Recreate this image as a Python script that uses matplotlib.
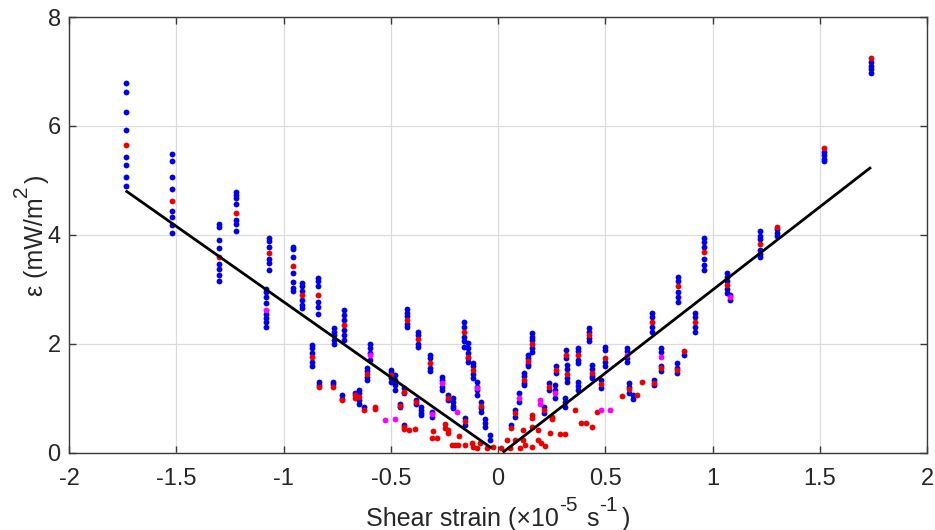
import matplotlib
matplotlib.use('Agg')
import matplotlib.pyplot as plt

plt.rcParams['font.family'] = ['Liberation Sans', 'DejaVu Sans']
plt.rcParams['axes.unicode_minus'] = False

# ---- data: columns of blue points (x, list of y) ----
col_x = [-1.736, -1.518, -1.300, -1.223, -1.083, -1.067, -0.957, -0.915, -0.837, -0.868,
         -0.833, -0.767, -0.763, -0.716, -0.728, -0.665, -0.650, -0.624, -0.597, -0.609,
         -0.498, -0.480, -0.436, -0.459, -0.436, -0.426, -0.372, -0.381, -0.360, -0.317,
         -0.308, -0.262, -0.231, -0.211, -0.154, -0.157, -0.138, -0.118, -0.099, -0.079,
         -0.059, -0.037,
         0.157, 0.141, 0.121, 0.099, 0.079, 0.059, 0.426, 0.374, 0.437, 0.499,
         0.480, 0.374, 0.316, 0.320, 0.270, 0.266, 0.313, 0.236, 0.216, 0.600,
         0.612, 0.628, 0.726, 0.716, 0.760, 0.841, 0.836, 0.869, 0.918, 0.960,
         1.069, 1.083, 1.221, 1.302, 1.520, 1.737]
col_blue = [
    [6.79, 6.63, 6.25, 5.93, 5.42, 5.28, 5.07, 4.90],
    [5.48, 5.36, 5.07, 4.84, 4.44, 4.33, 4.17, 4.03],
    [4.20, 4.14, 3.91, 3.75, 3.47, 3.37, 3.26, 3.15],
    [4.78, 4.73, 4.68, 4.56, 4.27, 4.19, 4.06],
    [3.01, 2.94, 2.85, 2.75, 2.54, 2.47, 2.40, 2.31],
    [3.94, 3.88, 3.78, 3.55, 3.49, 3.35],
    [3.78, 3.74, 3.59, 3.29, 3.14, 3.03, 2.97],
    [3.12, 3.05, 2.97, 2.80, 2.71, 2.65],
    [3.20, 3.15, 3.05, 2.77, 2.67, 2.54],
    [1.98, 1.92, 1.82, 1.67, 1.58],
    [1.30, 1.24],
    [1.30, 1.25],
    [2.28, 2.22, 2.16, 2.07, 1.99],
    [2.61, 2.53, 2.44, 2.25, 2.16, 2.07],
    [1.06, 0.99],
    [1.09],
    [1.15, 1.09, 0.96, 0.90],
    [0.84],
    [2.00, 1.92, 1.82, 1.70],
    [1.55, 1.49, 1.39, 1.33],
    [1.52, 1.47, 1.36, 1.30],
    [1.42, 1.33, 1.24, 1.15],
    [1.18, 1.10],
    [0.90, 0.83],
    [0.51],
    [2.63, 2.57, 2.50, 2.36, 2.30],
    [2.22, 2.16, 2.00, 1.94],
    [0.97, 0.90],
    [0.84, 0.78, 0.72, 0.69],
    [1.79, 1.73, 1.55, 1.50],
    [0.75, 0.65],
    [1.39, 1.33, 1.21, 1.15],
    [1.06, 0.96],
    [1.00, 0.93, 0.86, 0.81],
    [0.63, 0.51],
    [2.40, 2.31, 2.13, 2.04, 1.94],
    [2.02, 1.92, 1.82, 1.73, 1.67],
    [1.64, 1.58, 1.44, 1.36],
    [1.30, 1.21, 1.15, 1.05],
    [0.93, 0.81, 0.75],
    [0.61, 0.54, 0.47],
    [0.32, 0.23],
    [2.19, 2.13, 2.07, 1.92, 1.85],
    [1.79, 1.73, 1.62, 1.58],
    [1.46, 1.40, 1.28, 1.24],
    [1.09, 0.93],
    [0.78, 0.66],
    [0.51],
    [2.28, 2.22, 2.10, 2.04],
    [1.92, 1.86, 1.70, 1.64],
    [1.61, 1.54, 1.40, 1.36],
    [1.94, 1.88, 1.66, 1.58],
    [1.33, 1.18],
    [1.30, 1.22, 1.15],
    [1.88, 1.73],
    [1.61, 1.54, 1.36, 1.30],
    [1.58, 1.46],
    [1.24, 1.15, 1.00],
    [1.00, 0.92, 0.84],
    [1.27, 1.15],
    [0.84, 0.72],
    [1.92, 1.86, 1.74, 1.67],
    [1.28, 1.20, 1.09],
    [1.06, 0.98],
    [1.33, 1.24],
    [2.56, 2.48, 2.30, 2.22],
    [1.92, 1.84, 1.58, 1.49],
    [3.23, 3.15, 2.95, 2.85, 2.77],
    [1.64, 1.56, 1.46],
    [1.80],
    [2.56, 2.48, 2.30, 2.22],
    [3.94, 3.86, 3.78, 3.55, 3.45, 3.35],
    [3.29, 3.22, 3.15, 3.00, 2.93],
    [2.90, 2.80],
    [4.06, 3.98, 3.92, 3.72, 3.65, 3.59],
    [4.10, 4.04, 3.98],
    [5.52, 5.46, 5.40, 5.36],
    [7.17, 7.10, 7.04, 6.97],
]

red_x = [-1.736, -1.518, -1.300, -1.223, -1.067, -0.957, -0.915, -0.837, -0.868, -0.833,
         -0.767, -0.716, -0.728, -0.665, -0.665, -0.650, -0.624, -0.573, -0.573, -0.609,
         -0.498, -0.436, -0.459, -0.436, -0.436, -0.416, -0.385, -0.426, -0.372, -0.381,
         -0.317, -0.304, -0.310, -0.285, -0.247, -0.247, -0.231, -0.231, -0.231, -0.184,
         -0.215, -0.200, -0.185, -0.154, -0.123, -0.118, -0.100, -0.084, -0.052, -0.022,
         -0.154, -0.157, -0.138, -0.118, -0.079,
         0.157, 0.141, 0.121, 0.079, 0.059, 0.040, 0.079, 0.118, 0.126, 0.103,
         0.056, 0.014, 0.157, 0.188, 0.200, 0.219, 0.242, 0.289, 0.312, 0.188,
         0.118, 0.157, 0.426, 0.374, 0.437, 0.499, 0.480, 0.316, 0.320, 0.270,
         0.236, 0.216, 0.157, 0.157, 0.251, 0.251, 0.359, 0.460, 0.576, 0.437,
         0.386, 0.410, 0.612, 0.650, 0.670, 0.726, 0.716, 0.760, 0.841, 0.836,
         0.869, 0.918, 0.960, 1.069, 1.221, 1.302, 1.520, 1.737]
red_y = [5.64, 4.62, 3.60, 4.40, 3.66, 3.43, 2.90, 2.90, 1.75, 1.20,
         1.21, 2.34, 0.96, 1.06, 1.00, 1.02, 0.78, 0.84, 0.80, 1.44,
         1.42, 1.12, 0.86, 0.47, 0.44, 0.41, 0.43, 2.44, 2.08, 0.93,
         1.64, 0.40, 0.26, 0.26, 0.52, 0.45, 0.41, 0.36, 1.00, 0.30,
         0.14, 0.14, 0.14, 0.14, 0.17, 0.10, 0.08, 0.17, 0.08, 0.11,
         0.57, 2.22, 1.75, 1.52, 0.86,
         1.99, 1.68, 1.33, 0.72, 0.45, 0.23, 0.23, 0.23, 0.14, 0.08,
         0.08, 0.08, 0.11, 0.23, 0.17, 0.12, 0.36, 0.34, 0.34, 0.41,
         0.41, 0.47, 2.16, 1.79, 1.46, 1.73, 1.25, 1.79, 1.45, 1.52,
         1.21, 0.78, 0.69, 0.63, 0.65, 0.61, 0.78, 0.75, 1.03, 0.47,
         0.55, 0.55, 1.16, 1.06, 1.30, 1.28, 2.40, 1.55, 3.05, 1.52,
         1.86, 2.40, 3.69, 3.08, 3.83, 4.14, 5.59, 7.24]

mag_x = [-1.083, -0.597, -0.527, -0.480, -0.308, -0.262, -0.193, -0.099,
         0.099, 0.266, 0.196, 0.196, 0.480, 0.522, 0.600, 0.760, 1.083]
mag_y = [2.62, 1.79, 0.60, 0.61, 0.70, 1.27, 0.75, 1.18,
         1.01, 1.10, 0.97, 0.90, 0.78, 0.78, 1.80, 1.75, 2.86]

# fitted lines (endpoints)
fit_left_x = [-1.736, -0.030]
fit_left_y = [4.81, 0.08]
fit_right_x = [0.022, 1.739]
fit_right_y = [0.00, 5.24]

xticks = [-2, -1.5, -1, -0.5, 0, 0.5, 1, 1.5, 2]
xticklabels = ['-2', '-1.5', '-1', '-0.5', '0', '0.5', '1', '1.5', '2']
yticks = [0, 2, 4, 6, 8]
yticklabels = ['0', '2', '4', '6', '8']

W, H = 935, 530

# ---- figure ----
fig = plt.figure(figsize=(W / 100, H / 100), dpi=100)
ax = fig.add_axes([69 / W, 77.5 / H, 858 / W, 435.5 / H])

blue_x = [x for x, ys in zip(col_x, col_blue) for _ in ys]
blue_y = [y for ys in col_blue for y in ys]

ms = 4.2
ax.plot(blue_x, blue_y, 'o', color='#0000ee', ms=ms, mew=0, zorder=3, clip_on=False)
ax.plot(red_x, red_y, 'o', color='#ee0000', ms=ms, mew=0, zorder=4, clip_on=False)
ax.plot(mag_x, mag_y, 'o', color='#ff00ff', ms=ms, mew=0, zorder=4, clip_on=False)
ax.plot(fit_left_x, fit_left_y, '-', color='black', lw=2.0, zorder=5, solid_capstyle='butt')
ax.plot(fit_right_x, fit_right_y, '-', color='black', lw=2.0, zorder=5, solid_capstyle='butt')

ax.set_xlim(-2, 2)
ax.set_ylim(0, 8)
ax.set_xticks(xticks)
ax.set_xticklabels(xticklabels)
ax.set_yticks(yticks)
ax.set_yticklabels(yticklabels)
ax.grid(True, color='#dcdcdc', lw=0.9, zorder=0)
ax.set_axisbelow(True)

for s in ax.spines.values():
    s.set_color('#3a3a3a')
    s.set_linewidth(1.0)
ax.tick_params(direction='in', top=True, right=True, length=5, width=1.0,
               colors='#3a3a3a', labelcolor='#262626', labelsize=17)
ax.tick_params(axis='x', pad=11.5)
ax.tick_params(axis='y', pad=6)

# ---- axis labels composed from pieces (MATLAB-like superscripts) ----
renderer = fig.canvas.get_renderer()
TXT = '#262626'


def width_px(s, size):
    t = fig.text(0, 0, s, fontsize=size)
    w = t.get_window_extent(renderer).width
    t.remove()
    return w


def compose(pieces, gaps, center_px, base_px, vertical=False):
    widths = [width_px(s, sz) for s, sz, _ in pieces]
    total = sum(widths) + sum(gaps)
    pos = center_px - total / 2.0
    for i, ((s, sz, rise), w) in enumerate(zip(pieces, widths)):
        if not vertical:
            fig.text(pos / W, (H - base_px + rise) / H, s, fontsize=sz, color=TXT,
                     ha='left', va='baseline')
        else:
            fig.text((base_px - rise) / W, pos / H, s, fontsize=sz, color=TXT,
                     ha='left', va='baseline', rotation=90, rotation_mode='anchor')
        pos += w + (gaps[i] if i < len(gaps) else 0)


xlabel_pieces = [('Shear strain (\u00d710', 18, 0), ('-5', 15, 15),
                 ('s', 18, 0), ('-1', 15, 15), (')', 18, 0)]
compose(xlabel_pieces, [1, 8, 1, 4], center_px=498, base_px=526)

ylabel_pieces = [('\u03b5 (mW/m', 18, 0), ('2', 15, 16), (')', 18, 0)]
compose(ylabel_pieces, [1, 2], center_px=H - 235.5, base_px=43.5, vertical=True)

fig.savefig('out.png', dpi=100)
